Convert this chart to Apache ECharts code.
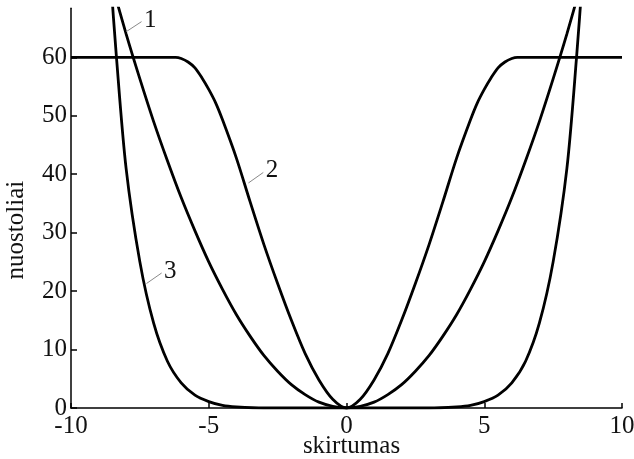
<!DOCTYPE html>
<html>
<head>
<meta charset="utf-8">
<script src="https://cdn.jsdelivr.net/npm/echarts@6/dist/echarts.min.js"></script>
<style>
  html, body { margin: 0; padding: 0; background: #fff; }
  #chart { width: 634px; height: 459px; }
</style>
</head>
<body>
<div id="chart"></div>
<script>
// Loss curves: 1 - quadratic, 2 - capped (saturating at 60), 3 - steep high-order
const curve1X = [-8.5, -8, -7.5, -7, -6.5, -6, -5.5, -5, -4.5, -4, -3.5, -3, -2.5, -2, -1.5, -1, -0.5, 0,
                 0.5, 1, 1.5, 2, 2.5, 3, 3.5, 4, 4.5, 5, 5.5, 6, 6.5, 7, 7.5, 8, 8.5];
const curve1Y = [72.3, 64, 56.3, 49, 42.3, 36, 30.3, 25, 20.3, 16, 12.3, 9, 6.3, 4, 2.3, 1, 0.3, 0,
                 0.3, 1, 2.3, 4, 6.3, 9, 12.3, 16, 20.3, 25, 30.3, 36, 42.3, 49, 56.3, 64, 72.3];

const curve2X = [-10, -8, -6.2, -6, -5.75, -5.5, -5.25, -5, -4.75, -4.5, -4, -3.5, -3, -2.5, -2, -1.5, -1, -0.5, 0,
                 0.5, 1, 1.5, 2, 2.5, 3, 3.5, 4, 4.5, 4.75, 5, 5.25, 5.5, 5.75, 6, 6.2, 8, 10];
const curve2Y = [60, 60, 60, 59.8, 59.2, 58.2, 56.5, 54.5, 52.2, 49.3, 42.8, 35.3, 28, 21.3, 15, 9.3, 4.8, 1.5, 0,
                 1.5, 4.8, 9.3, 15, 21.3, 28, 35.3, 42.8, 49.3, 52.2, 54.5, 56.5, 58.2, 59.2, 59.8, 60, 60, 60];

const curve3X = [-8.6, -8.35, -8, -7.5, -7, -6.5, -6, -5.5, -5, -4.5, -4, -3, 0,
                 3, 4, 4.5, 5, 5.5, 6, 6.5, 7, 7.5, 8, 8.35, 8.6];
const curve3Y = [76, 60, 41, 25, 14.5, 8, 4.3, 2.2, 1.1, 0.45, 0.2, 0, 0,
                 0, 0.2, 0.45, 1.1, 2.2, 4.3, 8, 14.5, 25, 41, 60, 76];

const xTicks = [-10, -5, 0, 5, 10];
const yTicks = [0, 10, 20, 30, 40, 50, 60];

// Curve labels: leader line [from, to] in data coords, text drawn past the end
const curveLabels = [
  { text: '1', from: [-7.99, 64.4], to: [-7.44, 66.1] },
  { text: '2', from: [-3.56, 38.5], to: [-3.02, 40.3] },
  { text: '3', from: [-7.26, 21.3], to: [-6.71, 23.1] }
];

const FONT = 'Liberation Serif';

function pairs(xs, ys) { return xs.map((x, i) => [x, ys[i]]); }

function labelMark(lbl) {
  return {
    silent: true,
    symbol: ['none', 'none'],
    animation: false,
    lineStyle: { color: '#8a8a8a', width: 1, type: 'solid' },
    label: {
      show: true, position: 'end', distance: 3,
      formatter: lbl.text, color: '#111', fontFamily: FONT, fontSize: 25
    },
    data: [[{ coord: lbl.from }, { coord: lbl.to }]]
  };
}

function lineSeries(xs, ys, lbl) {
  return {
    type: 'line',
    data: pairs(xs, ys),
    showSymbol: false,
    smooth: 0.3,
    clip: true,
    lineStyle: { color: '#000', width: 2.8 },
    markLine: labelMark(lbl)
  };
}

const chart = echarts.init(document.getElementById('chart'), null, { renderer: 'canvas' });
chart.setOption({
  animation: false,
  backgroundColor: '#fff',
  grid: { left: 71, right: 12, top: 8.2, bottom: 51, outerBoundsMode: 'none', containLabel: false },
  xAxis: {
    type: 'value', min: -10, max: 10, interval: 5,
    name: 'skirtumas', nameLocation: 'middle', nameGap: 26, nameMoveOverlap: false,
    nameTextStyle: { fontFamily: FONT, fontSize: 25, color: '#111', padding: [0, 0, 0, 10] },
    axisLine: { show: true, onZero: false, lineStyle: { color: '#000', width: 1.5 } },
    axisTick: { show: true, inside: true, length: 5, lineStyle: { color: '#000', width: 1.5 }, customValues: xTicks },
    axisLabel: { fontFamily: FONT, fontSize: 25, color: '#111', margin: 6, customValues: xTicks },
    splitLine: { show: false }
  },
  yAxis: {
    type: 'value', min: 0, max: 68.4, interval: 10,
    name: 'nuostoliai', nameLocation: 'middle', nameGap: 42, nameRotate: 90, nameMoveOverlap: false,
    nameTextStyle: { fontFamily: FONT, fontSize: 25, color: '#111', padding: [0, 44, 0, 0] },
    axisLine: { show: true, onZero: false, lineStyle: { color: '#000', width: 1.5 } },
    axisTick: { show: true, inside: true, length: 6, lineStyle: { color: '#000', width: 1.5 }, customValues: yTicks },
    axisLabel: { fontFamily: FONT, fontSize: 25, color: '#111', margin: 4, customValues: yTicks },
    splitLine: { show: false }
  },
  series: [
    lineSeries(curve1X, curve1Y, curveLabels[0]),
    lineSeries(curve2X, curve2Y, curveLabels[1]),
    lineSeries(curve3X, curve3Y, curveLabels[2])
  ]
});
</script>
</body>
</html>
